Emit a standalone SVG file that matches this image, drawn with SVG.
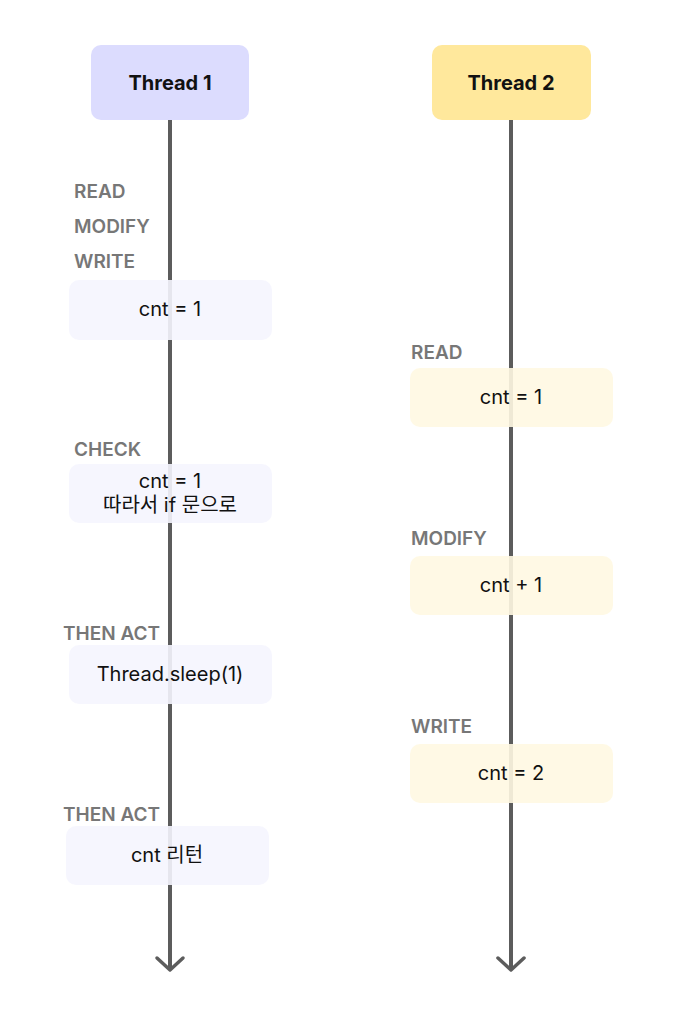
<svg xmlns="http://www.w3.org/2000/svg" width="676" height="1016" viewBox="0 0 676 1016">
<style>
.hdr{font-family:Inter,"Noto Sans CJK KR",sans-serif;font-size:20px;font-weight:700;fill:#111;text-anchor:middle}
.lbl{font-family:Inter,"Noto Sans CJK KR",sans-serif;font-size:19px;font-weight:600;fill:#777}
.txt{font-family:Inter,"Noto Sans CJK KR",sans-serif;font-size:20px;fill:#111;text-anchor:middle}
.b1{fill:#f5f5fe;fill-opacity:0.9}
.b2{fill:#fff8e2;fill-opacity:0.9}
.ln{stroke:#5c5c5c;stroke-width:4;fill:none}
.ah{stroke:#5c5c5c;stroke-width:3.5;fill:none;stroke-linecap:round;stroke-linejoin:round}
</style>
<rect width="676" height="1016" fill="#fff"/>
<g id="connectors">
<line class="ln" x1="170" y1="120" x2="170" y2="968"/>
<polyline class="ah" points="157,958 170,970 183,958"/>
<line class="ln" x1="511" y1="120" x2="511" y2="968"/>
<polyline class="ah" points="498,958 511,970 524,958"/>
</g>
<g id="thread1">
<rect x="91" y="45" width="158" height="75" rx="10" fill="#dcdcfe"/>
<text class="hdr" x="170" y="90">Thread 1</text>
</g>
<g id="thread2">
<rect x="432" y="45" width="159" height="75" rx="10" fill="#ffe89c"/>
<text class="hdr" x="511" y="90">Thread 2</text>
</g>
<g id="t1-labels">
<text class="lbl" x="74" y="198">READ</text>
<text class="lbl" x="74" y="233">MODIFY</text>
<text class="lbl" x="74" y="268">WRITE</text>
</g>
<g id="t1-write">
<rect class="b1" x="69" y="280" width="203" height="60" rx="10"/>
<text class="txt" x="170" y="316">cnt = 1</text>
</g>
<g id="t1-check">
<text class="lbl" x="74" y="456">CHECK</text>
<rect class="b1" x="69" y="464" width="203" height="59" rx="10"/>
<text class="txt" x="170" y="488">cnt = 1</text>
<text class="txt" x="170" y="512" font-size="18">따라서 if 문으로</text>
</g>
<g id="t1-act1">
<text class="lbl" x="63" y="640">THEN ACT</text>
<rect class="b1" x="69" y="645" width="203" height="59" rx="10"/>
<text class="txt" x="170" y="681">Thread.sleep(1)</text>
</g>
<g id="t1-act2">
<text class="lbl" x="63" y="821">THEN ACT</text>
<rect class="b1" x="66" y="826" width="203" height="59" rx="10"/>
<text class="txt" x="167" y="862">cnt 리턴</text>
</g>
<g id="t2-read">
<text class="lbl" x="411" y="359">READ</text>
<rect class="b2" x="410" y="368" width="203" height="59" rx="10"/>
<text class="txt" x="511" y="404">cnt = 1</text>
</g>
<g id="t2-modify">
<text class="lbl" x="411" y="545">MODIFY</text>
<rect class="b2" x="410" y="556" width="203" height="59" rx="10"/>
<text class="txt" x="511" y="592">cnt + 1</text>
</g>
<g id="t2-write">
<text class="lbl" x="411" y="733">WRITE</text>
<rect class="b2" x="410" y="744" width="203" height="59" rx="10"/>
<text class="txt" x="511" y="780">cnt = 2</text>
</g>
</svg>
